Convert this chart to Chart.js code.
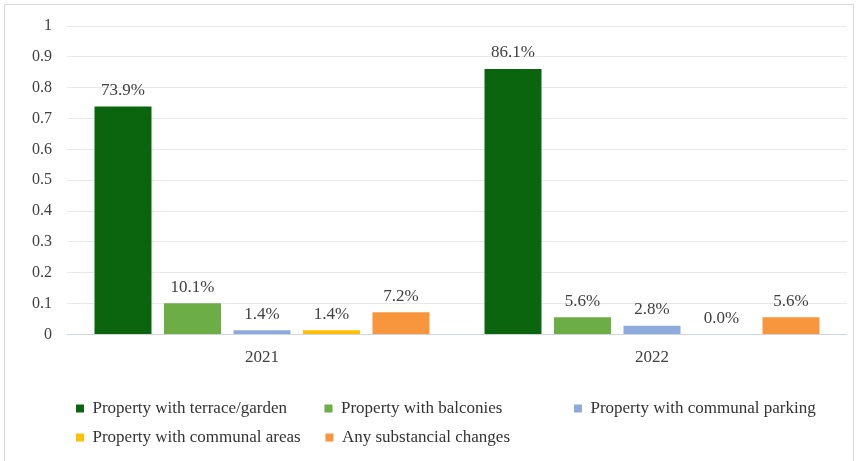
<!DOCTYPE html>
<html>
<head>
<meta charset="utf-8">
<script src="https://cdn.jsdelivr.net/npm/chart.js@4/dist/chart.umd.min.js"></script>
<style>
  html, body { margin: 0; padding: 0; background: #ffffff; }
  #wrap { position: relative; width: 868px; height: 461px; }
  canvas { display: block; }
</style>
</head>
<body>
<div id="wrap"><canvas id="c" width="868" height="461"></canvas></div>
<script>
// Survey years
const years = ['2021', '2022'];

// Share of respondents per feature (fraction of 1)
const terraceGarden   = [0.739, 0.861];
const balconies       = [0.101, 0.056];
const communalParking = [0.014, 0.028];
const communalAreas   = [0.014, 0.000];
const substantialChg  = [0.072, 0.056];

const seriesNames = [
  'Property with terrace/garden',
  'Property with balconies',
  'Property with communal parking',
  'Property with communal areas',
  'Any substancial changes'
];

// Y axis ticks 0 .. 1 step 0.1
const yTicks = [0, 0.1, 0.2, 0.3, 0.4, 0.5, 0.6, 0.7, 0.8, 0.9, 1];

const FONT = '"Liberation Serif", "Times New Roman", serif';
const TEXT = '#404040';

const colors = ['#0B640E', '#6CAD46', '#8EA9DB', '#FFC000', '#F7963C'];
const seriesData = [terraceGarden, balconies, communalParking, communalAreas, substantialChg];

// Value labels above each bar
const valueLabels = {
  id: 'valueLabels',
  afterDatasetsDraw(chart) {
    const ctx = chart.ctx;
    ctx.save();
    ctx.font = '17px ' + FONT;
    ctx.fillStyle = TEXT;
    ctx.textAlign = 'center';
    ctx.textBaseline = 'middle';
    chart.data.datasets.forEach((ds, di) => {
      const meta = chart.getDatasetMeta(di);
      meta.data.forEach((bar, i) => {
        const v = ds.data[i];
        ctx.fillText((v * 100).toFixed(1) + '%', bar.x, bar.y - 16);
      });
    });
    ctx.restore();
  }
};

// Thin frame around the figure
const frame = {
  id: 'frame',
  beforeDraw(chart) {
    const ctx = chart.ctx;
    ctx.save();
    ctx.fillStyle = '#ffffff';
    ctx.fillRect(0, 0, chart.width, chart.height);
    ctx.strokeStyle = '#d9d9d9';
    ctx.lineWidth = 1;
    ctx.strokeRect(4.5, 4.5, 849, 480);
    ctx.restore();
  }
};

// Indent the legend so its columns line up under the plot
const legendIndent = {
  id: 'legendIndent',
  afterLayout(chart) {
    if (chart.legend) chart.legend.left = 64;
  }
};

const LEGEND_FONT_SIZE = 17;
const COLUMN_TEXT_WIDTH = 217;

new Chart(document.getElementById('c'), {
  type: 'bar',
  data: {
    labels: years,
    datasets: seriesNames.map((name, k) => ({
      label: name,
      data: seriesData[k],
      backgroundColor: colors[k],
      borderWidth: 0,
      categoryPercentage: 0.891,
      barPercentage: 0.82
    }))
  },
  options: {
    responsive: false,
    animation: false,
    events: [],
    layout: { padding: { left: 4, right: 21, top: 26, bottom: 5 } },
    scales: {
      x: {
        grid: { display: false },
        border: { display: false },
        ticks: { color: TEXT, font: { family: FONT, size: 17 }, padding: 5 },
        afterFit(axis) { axis.height = 53.5; }
      },
      y: {
        min: 0,
        max: 1,
        afterBuildTicks(axis) { axis.ticks = yTicks.map(v => ({ value: v })); },
        grid: {
          drawTicks: false,
          color: (c) => c.tick && c.tick.value === 0 ? '#cdd4e2' : '#e9e9e9',
          lineWidth: 1
        },
        border: { display: false },
        ticks: {
          color: TEXT,
          font: { family: FONT, size: 16 },
          padding: 15,
          callback: (v) => String(Math.round(v * 10) / 10)
        },
        afterFit(axis) { axis.width = 63; }
      }
    },
    plugins: {
      tooltip: { enabled: false },
      legend: {
        position: 'bottom',
        align: 'start',
        labels: {
          color: '#333333',
          font: { family: FONT, size: LEGEND_FONT_SIZE },
          boxWidth: 8,
          boxHeight: 8,
          padding: 12,
          generateLabels(chart) {
            const items = Chart.defaults.plugins.legend.labels.generateLabels(chart);
            const ctx = chart.ctx;
            ctx.save();
            ctx.font = LEGEND_FONT_SIZE + 'px ' + FONT;
            items.forEach(it => {
              let t = it.text;
              while (ctx.measureText(t).width < COLUMN_TEXT_WIDTH) t += '\u00A0';
              it.text = t;
            });
            ctx.restore();
            return items;
          }
        }
      }
    }
  },
  plugins: [frame, legendIndent, valueLabels]
});
</script>
</body>
</html>
